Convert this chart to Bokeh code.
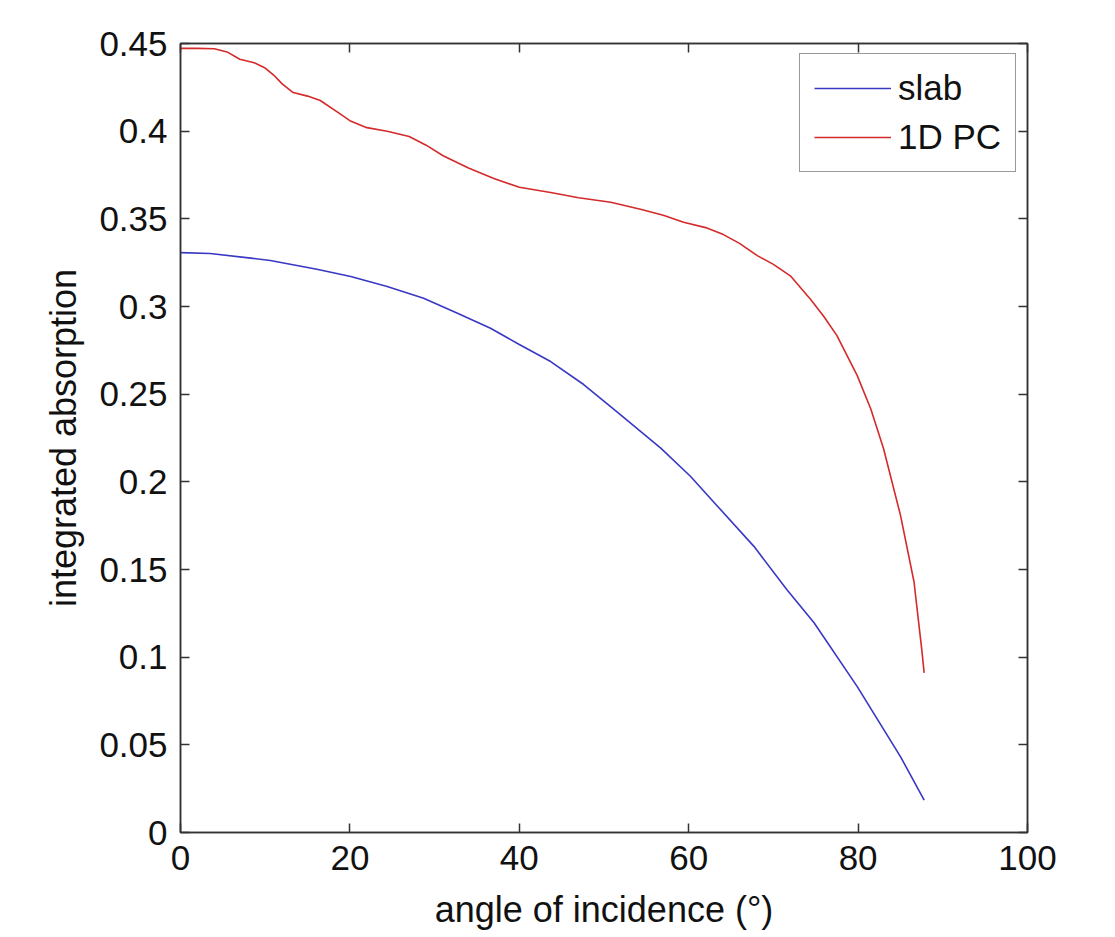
from bokeh.plotting import figure
from bokeh.models import LinearAxis, FixedTicker, Legend, LegendItem, Range1d
from bokeh.embed import file_html
from bokeh.resources import INLINE

# ---- data ----
slab_angle = [0, 3.5, 8.3, 10.6, 16.1, 20.1, 24.4, 28.7, 32.7, 36.6, 40, 43.7, 47.6, 51.5,
              56.7, 60.2, 63.4, 67.7, 71.6, 74.8, 79.9, 85, 87.8]
slab_abs = [0.3307, 0.3302, 0.3276, 0.3262, 0.3212, 0.3171, 0.3114, 0.3047, 0.2962, 0.2876,
            0.2783, 0.2686, 0.2555, 0.2401, 0.2192, 0.2032, 0.1861, 0.1632, 0.1385, 0.1196,
            0.0832, 0.0433, 0.0185]

pc_angle = [0, 2, 4, 5.5, 7, 8.7, 10, 11, 12, 13.3, 15, 16.5, 18.5, 20, 22, 24.4, 27, 29,
            31, 34, 37, 40, 43.7, 47, 50.8, 54.3, 57, 59.4, 62, 64.1, 66, 68.1, 70, 72,
            74.4, 76, 77.5, 79.9, 81.5, 83, 85, 86.6, 87.5, 87.8]
pc_abs = [0.4472, 0.4472, 0.4470, 0.4452, 0.4410, 0.4390, 0.4360, 0.4320, 0.4270, 0.4220,
          0.4200, 0.4175, 0.4110, 0.4060, 0.4020, 0.4000, 0.3970, 0.3920, 0.3860, 0.3790,
          0.3730, 0.3680, 0.3650, 0.3620, 0.3595, 0.3555, 0.3520, 0.3480, 0.3450, 0.3410,
          0.3360, 0.3290, 0.3240, 0.3175, 0.3040, 0.2940, 0.2834, 0.2606, 0.2415, 0.2190,
          0.1810, 0.1430, 0.1050, 0.0910]

x_ticks = [0, 20, 40, 60, 80, 100]
y_ticks = [0, 0.05, 0.1, 0.15, 0.2, 0.25, 0.3, 0.35, 0.4, 0.45]
y_tick_labels = ["0", "0.05", "0.1", "0.15", "0.2", "0.25", "0.3", "0.35", "0.4", "0.45"]
series_names = ["slab", "1D PC"]

FONT = "Liberation Sans"
FS = "35px"
LFS = "36px"
AX = "#333333"

p = figure(width=1099, height=921, output_backend="svg", toolbar_location=None,
           x_range=Range1d(0, 100), y_range=Range1d(0, 0.45),
           min_border_left=180, min_border_right=72, min_border_top=43, min_border_bottom=89)
p.frame_width = 847
p.frame_height = 789
p.grid.visible = False
p.background_fill_color = "white"
p.border_fill_color = "white"
p.outline_line_color = AX
p.outline_line_width = 1.5

def style(ax, labels=True):
    ax.axis_line_color = AX
    ax.axis_line_width = 1.5
    ax.major_tick_line_color = AX
    ax.major_tick_line_width = 1.5
    ax.major_tick_in = 9
    ax.major_tick_out = 0
    ax.minor_tick_line_color = None
    ax.major_label_text_font = FONT
    ax.major_label_text_font_size = FS
    ax.major_label_text_color = "#111111" if labels else None
    ax.axis_label_text_font = FONT
    ax.axis_label_text_font_size = LFS
    ax.axis_label_text_font_style = "normal"
    ax.axis_label_text_color = "#111111"

p.xaxis.ticker = FixedTicker(ticks=x_ticks)
p.yaxis.ticker = FixedTicker(ticks=y_ticks)
p.yaxis.major_label_overrides = {t: l for t, l in zip(y_ticks, y_tick_labels)}
p.xaxis.axis_label = "angle of incidence (°)"
p.yaxis.axis_label = "integrated absorption"
style(p.xaxis[0])
style(p.yaxis[0])
p.xaxis.major_label_standoff = 13
p.yaxis.major_label_standoff = 13
p.xaxis.axis_label_standoff = 16
p.yaxis.axis_label_standoff = 12

top = LinearAxis(ticker=FixedTicker(ticks=x_ticks),
                 major_label_overrides={t: "" for t in x_ticks})
style(top, labels=False)
right = LinearAxis(ticker=FixedTicker(ticks=y_ticks),
                   major_label_overrides={t: "" for t in y_ticks})
style(right, labels=False)
p.add_layout(top, "above")
p.add_layout(right, "right")

r1 = p.line(slab_angle, slab_abs, line_color="#3838c4", line_width=1.6)
r2 = p.line(pc_angle, pc_abs, line_color="#d42a2a", line_width=1.6)

legend = Legend(items=[LegendItem(label=series_names[0], renderers=[r1]),
                       LegendItem(label=series_names[1], renderers=[r2])],
                location=(619, 660))
legend.label_text_font = FONT
legend.label_text_font_size = FS
legend.label_text_color = "#111111"
legend.glyph_width = 77
legend.glyph_height = 40
legend.label_height = 40
legend.label_standoff = 7
legend.spacing = 9
legend.padding = 14
legend.margin = 0
legend.border_line_color = AX
legend.border_line_width = 1.5
legend.background_fill_color = "white"
p.add_layout(legend, "center")

open("out.html", "w").write(file_html(p, INLINE))
